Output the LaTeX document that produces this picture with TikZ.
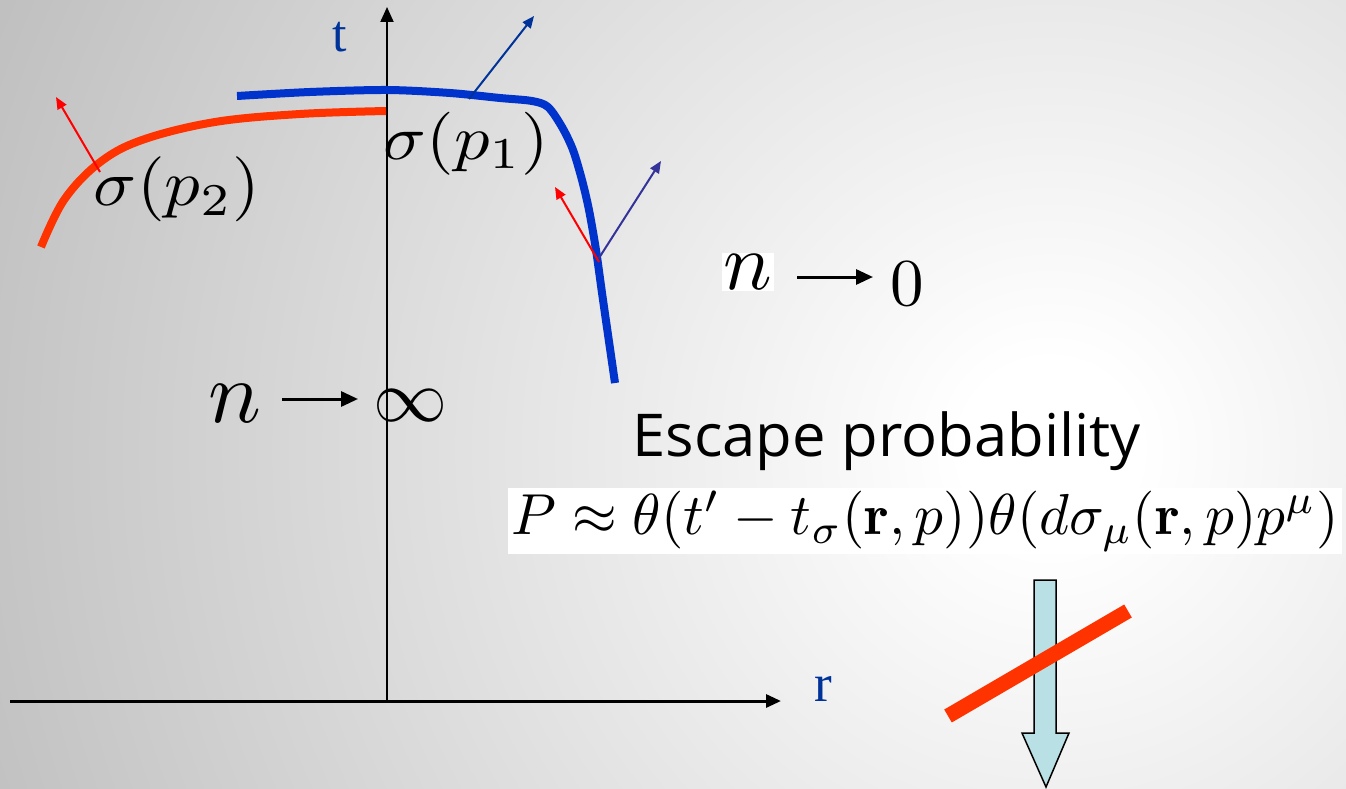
\documentclass[tikz,border=0pt]{standalone}
\usepackage{fontspec}
\newfontfamily\escfont{Open Sans}
\newfontfamily\timesfont{Liberation Serif}
\usepackage{graphicx}
\usetikzlibrary{arrows.meta}
\definecolor{bggray}{RGB}{128,128,128}
\definecolor{curvered}{RGB}{255,51,0}
\definecolor{curveblue}{RGB}{0,51,204}
\definecolor{arrowblue}{RGB}{0,51,153}
\definecolor{arrowviolet}{RGB}{51,51,153}
\definecolor{labelblue}{RGB}{0,51,153}
\definecolor{blockcyan}{RGB}{185,224,228}
\pgfdeclareradialshading{bgshade}{\pgfpoint{0bp}{0bp}}{color(0bp)=(white);color(2bp)=(white);color(50bp)=(bggray)}
\begin{document}
\begin{tikzpicture}[x=1pt,y=-1pt,
  axis/.style={line width=2pt,-{Triangle[length=15pt,width=13pt]}},
  curve/.style={line width=8pt},
  normal/.style={line width=2pt,-{Triangle[length=12pt,width=10pt]}},
  limarrow/.style={line width=3pt,-{Triangle[length=17pt,width=15pt]}},
  lbl/.style={inner sep=0pt}]
\useasboundingbox (0,0) rectangle (1346,789);
\begin{scope}
  \clip (0,0) rectangle (1346,789);
  \shade[shading=bgshade] (-50,-650) rectangle (2150,1550);
\end{scope}
% axes
\coordinate (O) at (387,701);
\coordinate (ttip) at (387,7);
\coordinate (rstart) at (10,701);
\coordinate (rtip) at (781,701);
\draw[axis] (O) -- (ttip);
\draw[axis,line width=3pt] (rstart) -- (rtip);
\node[lbl,text=labelblue,font=\timesfont\fontsize{52}{52}\selectfont] (tlabel) at (340,37.5) {t};
\node[lbl,text=labelblue,font=\timesfont\fontsize{53}{53}\selectfont] (rlabel) at (823.5,689.5) {r};
% curves
\draw[curve,curvered] plot[smooth,tension=0.6] coordinates {(41,247) (64,200) (99,163) (142,140) (215,122) (300,114) (386,111)};
\draw[curve,curveblue] plot[smooth,tension=0.5] coordinates {(237,96) (310,92) (387,90) (450,93) (500,98) (532,101) (548,107) (562,127) (573,150) (582,180) (589,210) (596,250) (603,300) (615,383)};
% normals
\coordinate (n2a) at (100,172); \coordinate (n2b) at (56,97);
\draw[normal,red] (n2a) -- (n2b);
\coordinate (n1a) at (469,99); \coordinate (n1b) at (534,16);
\draw[normal,arrowblue] (n1a) -- (n1b);
\coordinate (n3a) at (599,262); \coordinate (n3b) at (555,187);
\draw[normal,red] (n3a) -- (n3b);
\coordinate (n4a) at (599,258); \coordinate (n4b) at (661,161);
\draw[normal,arrowviolet] (n4a) -- (n4b);
% labels
\node[lbl] (sig2) at (177,189.5) {\resizebox*{166pt}{65pt}{$\sigma(p_2)$}};
\node[lbl] (sig1) at (466.5,143.5) {\resizebox*{165pt}{63pt}{$\sigma(p_1)$}};
% n -> infinity
\node[lbl] (ninf) at (235,404) {\scalebox{8.8}{$n$}};
\coordinate (a1s) at (282,399); \coordinate (a1e) at (358,399);
\draw[limarrow] (a1s) -- (a1e);
\node[lbl] (inf) at (410,406) {\scalebox{7.4}{$\infty$}};
% n -> 0
\node[lbl,fill=white,inner sep=2pt] (nzero) at (748,272) {\scalebox{8.1}{$n$}};
\coordinate (a2s) at (797,277); \coordinate (a2e) at (873,277);
\draw[limarrow] (a2s) -- (a2e);
\node[lbl] (zero) at (907,283.5) {\scalebox{6.7}{$0$}};
% escape probability
\node[lbl] (esc) at (886.5,441.5) {\resizebox*{508pt}{59pt}{\escfont Escape probability}};
\node[fill=white,inner sep=0pt,minimum width=834pt,minimum height=66pt] (formula) at (925,521) {\resizebox*{827pt}{60pt}{$P\approx\theta(t'-t_\sigma(\mathbf{r},p))\theta(d\sigma_\mu(\mathbf{r},p)p^\mu)$}};
% block arrow and bar
\draw[fill=blockcyan,line width=1.5pt] (1034,580) -- (1056,580) -- (1056,733) -- (1069,733) -- (1046,787) -- (1022,733) -- (1034,733) -- cycle;
\coordinate (bar1) at (948,716); \coordinate (bar2) at (1128,611);
\draw[curvered,line width=15pt] (bar1) -- (bar2);
\end{tikzpicture}
\end{document}
